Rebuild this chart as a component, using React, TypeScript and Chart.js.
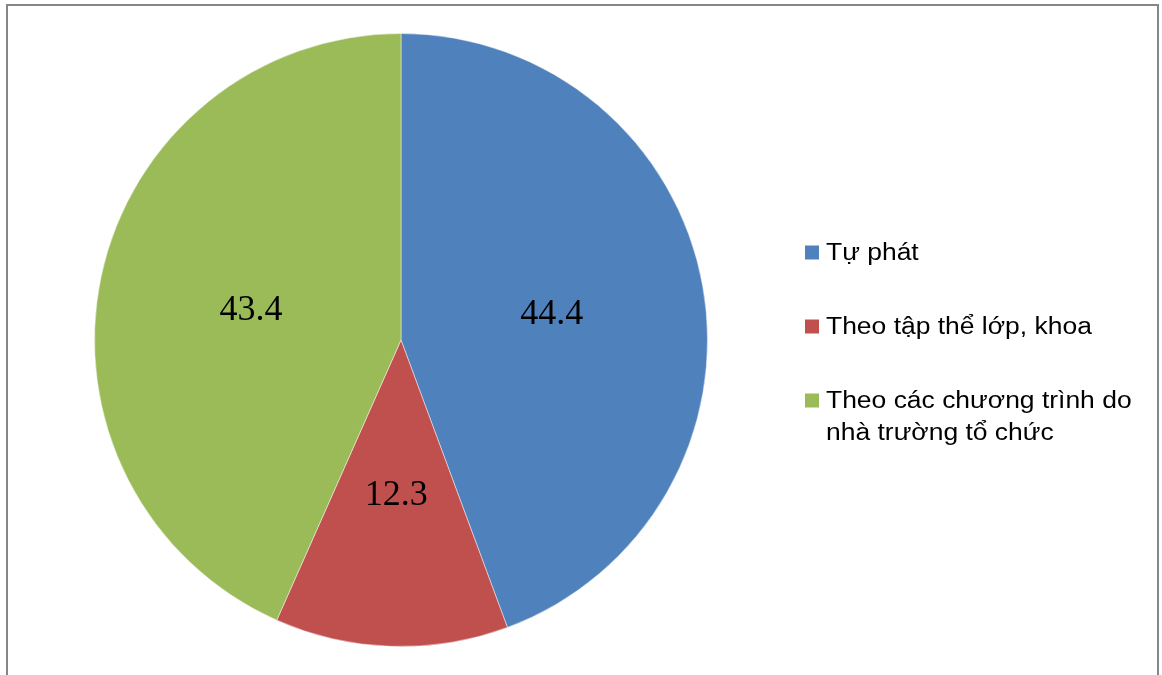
import React, { useEffect, useRef } from "react";
import { Chart, registerables } from "chart.js";

Chart.register(...registerables);

// Share of students by how they take part in activities (%)
const categories: string[] = [
  "Tự phát",
  "Theo tập thể lớp, khoa",
  "Theo các chương trình do nhà trường tổ chức",
];
const values: number[] = [44.4, 12.3, 43.4];
const legendLines: string[][] = [
  ["Tự phát"],
  ["Theo tập thể lớp, khoa"],
  ["Theo các chương trình do", "nhà trường tổ chức"],
];
const colors: string[] = ["#4F81BD", "#C0504D", "#9BBB59"];

const W = 1162;
const H = 675;

// Outer frame of the chart box
const framePlugin = {
  id: "frame",
  beforeDraw(chart: any) {
    const ctx = chart.ctx;
    ctx.save();
    ctx.fillStyle = "#ffffff";
    ctx.fillRect(0, 0, W, H);
    ctx.strokeStyle = "#868686";
    ctx.lineWidth = 2;
    ctx.strokeRect(7, 5, 1151, 700);
    ctx.restore();
  },
};

// Value labels placed at each slice's center point
const valueLabelPlugin = {
  id: "valueLabels",
  afterDatasetsDraw(chart: any) {
    const ctx = chart.ctx;
    const meta = chart.getDatasetMeta(0);
    const data = chart.data.datasets[0].data as number[];
    ctx.save();
    ctx.font = '36px "Liberation Serif", "Times New Roman", serif';
    ctx.fillStyle = "#000000";
    ctx.textAlign = "center";
    ctx.textBaseline = "middle";
    meta.data.forEach((arc: any, i: number) => {
      const p = arc.getCenterPoint();
      ctx.fillText(data[i].toFixed(1), p.x, p.y + 2);
    });
    ctx.restore();
  },
};

// Legend on the right with wrapped entries (text slightly widened)
const sideLegendPlugin = {
  id: "sideLegend",
  afterDraw(chart: any) {
    const ctx = chart.ctx;
    const bg = chart.data.datasets[0].backgroundColor as string[];
    const baselines = [259.5, 333.5, 407.5];
    ctx.save();
    ctx.font = '23px "Liberation Sans", Arial, sans-serif';
    ctx.textAlign = "left";
    ctx.textBaseline = "alphabetic";
    legendLines.forEach((lines, i) => {
      const b = baselines[i];
      ctx.fillStyle = bg[i];
      ctx.fillRect(805, b - 14, 14, 14);
      ctx.fillStyle = "#000000";
      lines.forEach((t, j) => {
        ctx.save();
        ctx.translate(826, b + j * 32);
        ctx.scale(1.15, 1);
        ctx.fillText(t, 0, 0);
        ctx.restore();
      });
    });
    ctx.restore();
  },
};

export default function App() {
  const canvasRef = useRef<HTMLCanvasElement | null>(null);

  useEffect(() => {
    if (!canvasRef.current) return;
    const chart = new Chart(canvasRef.current, {
      type: "pie",
      data: {
        labels: categories,
        datasets: [
          {
            data: values,
            backgroundColor: colors,
            borderColor: "rgba(255,255,255,0.45)",
            borderWidth: 1,
          },
        ],
      },
      options: {
        responsive: false,
        animation: false,
        maintainAspectRatio: false,
        layout: {
          padding: { top: 33, bottom: 28, left: 94, right: 454 },
        },
        plugins: {
          legend: { display: false },
          tooltip: { enabled: false },
        },
      },
      plugins: [framePlugin, valueLabelPlugin, sideLegendPlugin],
    });
    return () => chart.destroy();
  }, []);

  return (
    <div style={{ position: "fixed", left: 0, top: 0, width: W, height: H, background: "#fff" }}>
      <canvas ref={canvasRef} width={W} height={H} style={{ display: "block" }} />
    </div>
  );
}
